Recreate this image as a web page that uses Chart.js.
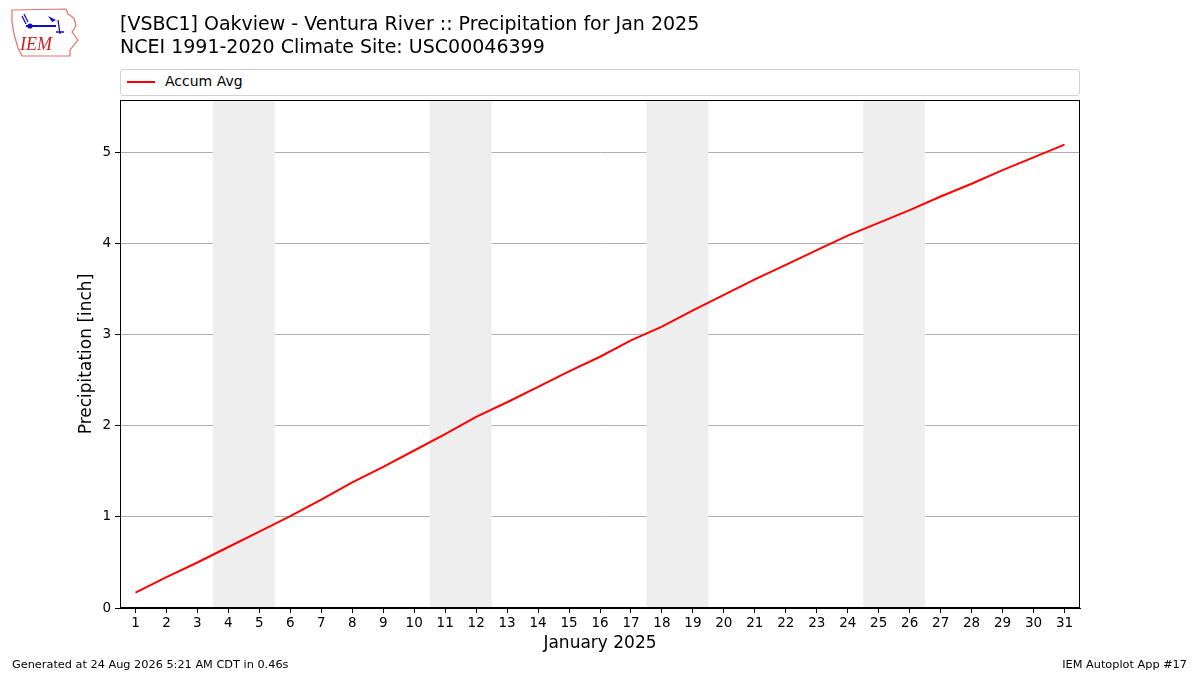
<!DOCTYPE html>
<html>
<head>
<meta charset="utf-8">
<script src="https://cdn.jsdelivr.net/npm/chart.js@4"></script>
<style>
  body { margin: 0; background: #fff; font-family: "DejaVu Sans", sans-serif; }
  #wrap { position: relative; width: 1200px; height: 675px; }
  #chart { position: absolute; left: 0; top: 0; }
  .title { position: absolute; left: 120px; font-size: 19px; color: #000; white-space: nowrap; }
  .foot { position: absolute; top: 658px; font-size: 11.3px; color: #000; white-space: nowrap; }
  #legend { position: absolute; left: 120px; top: 69px; width: 958px; height: 25px;
            border: 1px solid #d0d0d0; border-radius: 3px; background: #fff; }
  #legend .swatch { position: absolute; left: 6px; top: 11px; width: 28px; height: 2px; background: #ff0000; }
  #legend .lbl { position: absolute; left: 44px; top: 3px; font-size: 14px; }
</style>
</head>
<body>
<div id="wrap">
  <canvas id="chart" width="1200" height="675"></canvas>
  <svg style="position:absolute;left:8px;top:4px" width="74" height="56" viewBox="0 0 74 56">
    <path d="M4 6 L58 5 L60 10 L66 14 L68 22 L64 28 L70 36 L62 46 L62 52 L14 52 L10 44 L6 30 L4 18 Z"
          fill="none" stroke="#e07070" stroke-width="1.2"/>
    <line x1="18" y1="22" x2="48" y2="22" stroke="#1010c0" stroke-width="2"/>
    <circle cx="22" cy="22" r="2.6" fill="#1010c0"/>
    <path d="M16 10 L20 18 M14 12 L18 20" stroke="#1010c0" stroke-width="1.3"/>
    <path d="M40 12 L48 16 L44 18 Z" fill="#1010c0"/>
    <path d="M50 16 L52 30 M48 28 L56 28" stroke="#1010c0" stroke-width="1.3"/>
    <text x="12" y="46" font-family="Liberation Serif, serif" font-style="italic" font-size="18" fill="#d02020">IEM</text>
  </svg>
  <div class="title" style="top:12px">[VSBC1] Oakview - Ventura River :: Precipitation for Jan 2025</div>
  <div class="title" style="top:35px">NCEI 1991-2020 Climate Site: USC00046399</div>
  <div id="legend"><div class="swatch"></div><div class="lbl">Accum Avg</div></div>
  <div class="foot" style="left:12px">Generated at 24 Aug 2026 5:21 AM CDT in 0.46s</div>
  <div class="foot" style="right:13px">IEM Autoplot App #17</div>
</div>
<script>
// days of January 2025
const days = [1,2,3,4,5,6,7,8,9,10,11,12,13,14,15,16,17,18,19,20,21,22,23,24,25,26,27,28,29,30,31];
// accumulated average precipitation [inch]
const accumAvg = [0.17,0.34,0.50,0.67,0.84,1.01,1.19,1.38,1.55,1.73,1.91,2.10,2.26,2.43,2.60,2.76,
                  2.94,3.09,3.27,3.44,3.61,3.77,3.93,4.09,4.23,4.37,4.52,4.66,4.81,4.95,5.09];
// saturdays (weekend = sat + sun)
const weekendStarts = [4, 11, 18, 25];
const yTicks = [0, 1, 2, 3, 4, 5];

const points = days.map((d, i) => ({x: d, y: accumAvg[i]}));

const weekendPlugin = {
  id: 'weekends',
  beforeDatasetsDraw(chart) {
    const {ctx, chartArea, scales} = chart;
    ctx.save();
    ctx.fillStyle = '#eeeeee';
    weekendStarts.forEach(d => {
      const x0 = scales.x.getPixelForValue(d - 0.5);
      const x1 = scales.x.getPixelForValue(d + 1.5);
      ctx.fillRect(x0, chartArea.top, x1 - x0, chartArea.bottom - chartArea.top);
    });
    ctx.restore();
  },
  afterDraw(chart) {
    const {ctx, chartArea} = chart;
    ctx.save();
    ctx.strokeStyle = '#000';
    ctx.lineWidth = 1;
    ctx.strokeRect(chartArea.left + 0.5, chartArea.top + 0.5,
                   chartArea.right - chartArea.left - 1, chartArea.bottom - chartArea.top - 1);
    ctx.restore();
  }
};

Chart.defaults.font.family = '"DejaVu Sans", sans-serif';
Chart.defaults.color = '#000';

new Chart(document.getElementById('chart'), {
  type: 'line',
  data: {
    datasets: [{
      label: 'Accum Avg',
      data: points,
      borderColor: '#ff0000',
      borderWidth: 2,
      pointRadius: 0,
      tension: 0
    }]
  },
  options: {
    responsive: false,
    animation: false,
    layout: { padding: { left: 72, right: 120, top: 100, bottom: 17 } },
    plugins: { legend: { display: false }, tooltip: { enabled: false } },
    scales: {
      x: {
        type: 'linear',
        min: 0.5,
        max: 31.5,
        afterFit: s => { s.height = 50; },
        afterBuildTicks: s => { s.ticks = days.map(v => ({value: v})); },
        ticks: { font: { size: 13.5 }, padding: 2, maxRotation: 0, autoSkip: false },
        grid: { color: 'transparent', tickColor: '#000', tickLength: 5 },
        border: { color: '#000' },
        title: { display: true, text: 'January 2025', font: { size: 17 }, padding: { top: 4, bottom: 4 } }
      },
      y: {
        min: 0,
        max: 5.58,
        afterFit: s => { s.width = 48; },
        afterBuildTicks: s => { s.ticks = yTicks.map(v => ({value: v})); },
        ticks: { font: { size: 13.5 }, padding: 4 },
        grid: { color: '#b0b0b0', tickColor: '#000', tickLength: 5 },
        border: { color: '#000' },
        title: { display: true, text: 'Precipitation [inch]', font: { size: 17 }, padding: { top: 4, bottom: 4 } }
      }
    }
  },
  plugins: [weekendPlugin]
});
</script>
</body>
</html>
